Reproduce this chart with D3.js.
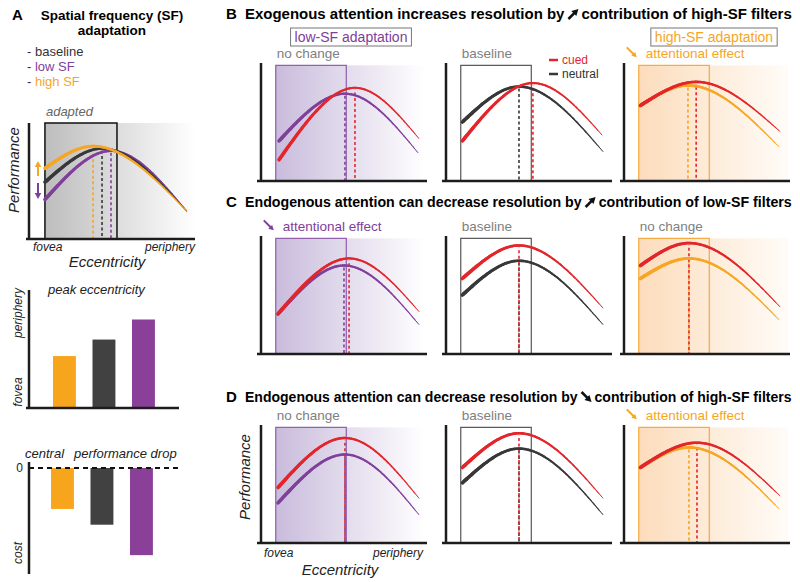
<!DOCTYPE html>
<html><head><meta charset="utf-8">
<script src="https://cdn.jsdelivr.net/npm/d3@7"></script>
<style>body{margin:0;background:#fff} text{font-family:"Liberation Sans",Arial,sans-serif}</style>
</head><body><svg id="c" width="800" height="582" xmlns="http://www.w3.org/2000/svg"></svg>
<script>
// ================= DATA =================
// Panel A: curves given as [eccentricity (0-10), performance (0-100)] at start, peak, end
const adaptHighSF   = [[0.96, 61], [3.86, 80], [9.5, 24]];
const adaptBaseline = [[0.96, 49], [4.40, 78], [9.5, 24]];
const adaptLowSF    = [[0.96, 34], [4.94, 76], [9.5, 24]];
const adaptedRegion = [0.96, 5.3];

// Panel A bars (order: high SF, baseline, low SF)
const sfConditions = ["high SF", "baseline", "low SF"];
const peakEccentricity = [44, 58, 75];
const centralDrop = [-39, -54, -83];

// Panels B-D: [eccentricity, performance] at start, peak, end
const rowB_lowCued    = [[1.10, 18], [5.73, 79], [9.63, 36]];
const rowB_lowAdapt   = [[1.10, 34], [5.12, 74], [9.57, 24]];
const rowB_baseCued   = [[1.00, 34], [5.30, 83], [9.51, 39]];
const rowB_baseNeut   = [[1.00, 50], [4.45, 80], [9.57, 25]];
const rowB_highCued   = [[1.00, 64], [4.40, 84], [9.51, 42]];
const rowB_highAdapt  = [[1.00, 64], [3.90, 81], [9.45, 29]];

const rowC_lowCued    = [[1.04, 34], [5.37, 81], [9.63, 36]];
const rowC_lowAdapt   = [[1.04, 34], [5.06, 75], [9.63, 25]];
const rowC_baseCued   = [[1.00, 64], [4.45, 92], [9.57, 39]];
const rowC_baseNeut   = [[1.00, 50], [4.45, 79], [9.57, 25]];
const rowC_highCued   = [[1.00, 75], [3.96, 94], [9.51, 40]];
const rowC_highAdapt  = [[1.00, 64], [3.96, 81], [9.45, 29]];

const rowD_lowCued    = [[1.04, 47], [5.12, 89], [9.63, 38]];
const rowD_lowAdapt   = [[1.04, 34], [5.12, 75], [9.63, 24]];
const rowD_baseCued   = [[1.00, 64], [4.45, 93], [9.57, 38]];
const rowD_baseNeut   = [[1.00, 51], [4.45, 80], [9.57, 24]];
const rowD_highCued   = [[1.00, 64], [4.45, 85], [9.51, 40]];
const rowD_highAdapt  = [[1.00, 64], [3.96, 81], [9.45, 29]];

const boxRegion = [0.9, 5.2];   // adapted / attended region (eccentricity)
const boxTop = 98;

const rowTitles = [
  ["B", "Exogenous attention increases resolution by", "up", "contribution of high-SF filters"],
  ["C", "Endogenous attention can decrease resolution by", "up", "contribution of low-SF filters"],
  ["D", "Endogenous attention can decrease resolution by", "down", "contribution of high-SF filters"]
];
const rowLabels = [
  [["no change", "grey"], ["baseline", "grey"], ["attentional effect", "orange"]],
  [["attentional effect", "purple"], ["baseline", "grey"], ["no change", "grey"]],
  [["no change", "grey"], ["baseline", "grey"], ["attentional effect", "orange"]]
];
const legendItems = ["cued", "neutral"];

// ================= STYLE =================
const C = {red: "#e3262b", purple: "#80409a", orange: "#f6a623", dark: "#383838",
           grey: "#808080", bPurple: "#8a3f98", bOrange: "#f7a51d", bDark: "#414141", axis: "#1c1c1c"};
const svg = d3.select("#c");
const defs = svg.append("defs");
function grad(id, c0, c1) {
  const g = defs.append("linearGradient").attr("id", id).attr("x1", "0").attr("x2", "1").attr("y1", "0").attr("y2", "0");
  g.append("stop").attr("offset", "0").attr("stop-color", c0);
  g.append("stop").attr("offset", "1").attr("stop-color", c1);
}
grad("gGrey", "#bdbdbd", "#ffffff");
grad("gPurple", "#c9bcdc", "#ffffff");
grad("gOrange", "#fcdcbc", "#fffcf8");

function arrow(g, x0, y0, x1, y1, color, w, hs) {
  const dx = x1 - x0, dy = y1 - y0, L = Math.hypot(dx, dy), ux = dx / L, uy = dy / L;
  const bx = x1 - ux * hs, by = y1 - uy * hs;
  g.append("line").attr("x1", x0).attr("y1", y0).attr("x2", bx + ux * 1).attr("y2", by + uy * 1)
    .attr("stroke", color).attr("stroke-width", w);
  g.append("path").attr("d", `M${x1},${y1}L${bx - uy * hs * 0.55},${by + ux * hs * 0.55}L${bx + uy * hs * 0.55},${by - ux * hs * 0.55}Z`)
    .attr("fill", color);
}

function taper(g, pts, xs, ys, color, w0, w1) {
  const line = d3.line().x(d => xs(d[0])).y(d => ys(d[1])).curve(d3.curveMonotoneX);
  const p = g.append("path").attr("d", line(pts)).attr("fill", "none");
  const node = p.node(), L = node.getTotalLength(), n = 90;
  let prev = node.getPointAtLength(0);
  const gg = g.append("g").attr("stroke", color).attr("stroke-linecap", "round");
  for (let i = 1; i <= n; i++) {
    const q = node.getPointAtLength(L * i / n);
    const t = (i - 0.5) / n;
    gg.append("line").attr("x1", prev.x).attr("y1", prev.y).attr("x2", q.x).attr("y2", q.y)
      .attr("stroke-width", w0 + (w1 - w0) * t);
    prev = q;
  }
  p.remove();
}
function peakDash(g, pts, xs, ys, color, off) {
  const pk = pts[1];
  g.append("line").attr("x1", xs(pk[0])).attr("x2", xs(pk[0])).attr("y1", ys(pk[1]) + 2).attr("y2", ys(0))
    .attr("stroke", color).attr("stroke-width", 1.6).attr("stroke-dasharray", "3,2.5").attr("stroke-dashoffset", off || 0);
}

// ================= PANEL A =================
const gA = svg.append("g");
gA.append("text").attr("x", 12).attr("y", 20).attr("font-weight", "bold").attr("font-size", 15).text("A");
gA.append("text").attr("x", 112).attr("y", 20).attr("text-anchor", "middle").attr("font-weight", "bold").attr("font-size", 13.5).text("Spatial frequency (SF)");
gA.append("text").attr("x", 112).attr("y", 35).attr("text-anchor", "middle").attr("font-weight", "bold").attr("font-size", 13.5).text("adaptation");
const legA = [["baseline", "#333"], ["low SF", C.purple], ["high SF", C.orange]];
legA.forEach((d, i) => {
  const t = gA.append("text").attr("x", 27).attr("y", 56 + i * 15).attr("font-size", 13).attr("fill", "#333");
  t.append("tspan").text("- ");
  t.append("tspan").attr("fill", d[1]).text(d[0]);
});

const xA = d3.scaleLinear().domain([0, 10]).range([29, 195]);
const yA = d3.scaleLinear().domain([0, 100]).range([239, 123]);
gA.append("rect").attr("x", xA(adaptedRegion[0])).attr("y", yA(100)).attr("width", xA(10) - xA(adaptedRegion[0]))
  .attr("height", yA(0) - yA(100)).attr("fill", "url(#gGrey)");
gA.append("rect").attr("x", xA(adaptedRegion[0])).attr("y", yA(100)).attr("width", xA(adaptedRegion[1]) - xA(adaptedRegion[0]))
  .attr("height", yA(0) - yA(100)).attr("fill", "none").attr("stroke", "#111").attr("stroke-width", 1.5);
gA.append("text").attr("x", xA(adaptedRegion[0]) + 1).attr("y", 116).attr("font-style", "italic").attr("font-size", 13).attr("fill", "#666").text("adapted");
peakDash(gA, adaptHighSF, xA, yA, C.orange);
peakDash(gA, adaptBaseline, xA, yA, C.dark);
peakDash(gA, adaptLowSF, xA, yA, C.purple);
taper(gA, adaptLowSF, xA, yA, C.purple, 3.6, 1.0);
taper(gA, adaptBaseline, xA, yA, C.dark, 3.6, 1.0);
taper(gA, adaptHighSF, xA, yA, C.orange, 3.6, 1.0);
arrow(gA, 38, 176, 38, 161, C.orange, 2, 6);
arrow(gA, 38, 183, 38, 199, C.purple, 2, 6);
gA.append("line").attr("x1", 29).attr("x2", 29).attr("y1", yA(0) + 1).attr("y2", yA(100)).attr("stroke", C.axis).attr("stroke-width", 2.5);
gA.append("line").attr("x1", 26).attr("x2", xA(10)).attr("y1", yA(0)).attr("y2", yA(0)).attr("stroke", C.axis).attr("stroke-width", 2.5);
gA.append("text").attr("x", 33).attr("y", 251).attr("font-style", "italic").attr("font-size", 12).attr("fill", "#222").text("fovea");
gA.append("text").attr("x", 195).attr("y", 251).attr("text-anchor", "end").attr("font-style", "italic").attr("font-size", 12).attr("fill", "#222").text("periphery");
gA.append("text").attr("x", 107).attr("y", 267).attr("text-anchor", "middle").attr("font-style", "italic").attr("font-size", 15).attr("fill", "#222").text("Eccentricity");
gA.append("text").attr("transform", "translate(19,170) rotate(-90)").attr("text-anchor", "middle").attr("font-style", "italic").attr("font-size", 15).attr("fill", "#222").text("Performance");

// --- peak eccentricity bars
const barCols = [C.bOrange, C.bDark, C.bPurple];
const xb1 = d3.scaleBand().domain(sfConditions).range([44.7, 163.2]).paddingInner(0.42).paddingOuter(0.21);
const yb1 = d3.scaleLinear().domain([0, 100]).range([408, 290]);
gA.append("g").selectAll("rect").data(sfConditions).join("rect")
  .attr("x", d => xb1(d)).attr("width", xb1.bandwidth())
  .attr("y", (d, i) => yb1(peakEccentricity[i])).attr("height", (d, i) => yb1(0) - yb1(peakEccentricity[i]))
  .attr("fill", (d, i) => barCols[i]);
gA.append("line").attr("x1", 29).attr("x2", 29).attr("y1", 409).attr("y2", 290).attr("stroke", C.axis).attr("stroke-width", 2.5);
gA.append("line").attr("x1", 26).attr("x2", 179).attr("y1", 408).attr("y2", 408).attr("stroke", C.axis).attr("stroke-width", 2.5);
gA.append("text").attr("x", 48).attr("y", 294).attr("font-style", "italic").attr("font-size", 13).attr("fill", "#222").text("peak eccentricity");
gA.append("text").attr("transform", "translate(22,313) rotate(-90)").attr("text-anchor", "middle").attr("font-style", "italic").attr("font-size", 12).attr("fill", "#222").text("periphery");
gA.append("text").attr("transform", "translate(22,392) rotate(-90)").attr("text-anchor", "middle").attr("font-style", "italic").attr("font-size", 12).attr("fill", "#222").text("fovea");

// --- central performance drop bars
const xb2 = d3.scaleBand().domain(sfConditions).range([42.7, 161.2]).paddingInner(0.42).paddingOuter(0.21);
const yb2 = d3.scaleLinear().domain([-100, 0]).range([573, 468]);
gA.append("g").selectAll("rect").data(sfConditions).join("rect")
  .attr("x", d => xb2(d)).attr("width", xb2.bandwidth())
  .attr("y", yb2(0)).attr("height", (d, i) => yb2(centralDrop[i]) - yb2(0))
  .attr("fill", (d, i) => barCols[i]);
gA.append("line").attr("x1", 29).attr("x2", 179).attr("y1", yb2(0)).attr("y2", yb2(0)).attr("stroke", "#111").attr("stroke-width", 2).attr("stroke-dasharray", "5,4");
gA.append("line").attr("x1", 29).attr("x2", 29).attr("y1", 462).attr("y2", 574).attr("stroke", C.axis).attr("stroke-width", 2.5);
gA.append("text").attr("x", 25).attr("y", 458).attr("font-style", "italic").attr("font-size", 13).attr("fill", "#222").text("central");
gA.append("text").attr("x", 74).attr("y", 458).attr("font-style", "italic").attr("font-size", 13).attr("fill", "#222").text("performance drop");
gA.append("text").attr("x", 23).attr("y", yb2(0) + 4).attr("text-anchor", "end").attr("font-size", 12).attr("fill", "#222").text("0");
gA.append("text").attr("transform", "translate(22,553) rotate(-90)").attr("text-anchor", "middle").attr("font-style", "italic").attr("font-size", 12).attr("fill", "#222").text("cost");

// ================= PANELS B-D =================
const colX = [261, 446, 624];
const rowBottom = [181, 354, 543];
const titleY = [19, 207, 402];
const axLen = 164, axH = 118;
const rows = [
  [[rowB_lowAdapt, rowB_lowCued], [rowB_baseNeut, rowB_baseCued], [rowB_highAdapt, rowB_highCued]],
  [[rowC_lowAdapt, rowC_lowCued], [rowC_baseNeut, rowC_baseCued], [rowC_highAdapt, rowC_highCued]],
  [[rowD_lowAdapt, rowD_lowCued], [rowD_baseNeut, rowD_baseCued], [rowD_highAdapt, rowD_highCued]]
];
const colColor = [C.purple, C.dark, C.orange];
const colFill = ["url(#gPurple)", null, "url(#gOrange)"];
const colBox = ["#8f5cab", "#555", "#f6a83c"];
const labColor = {grey: C.grey, purple: C.purple, orange: C.orange};

rows.forEach((row, r) => {
  const g = svg.append("g");
  const tt = rowTitles[r];
  g.append("text").attr("x", 226).attr("y", titleY[r]).attr("font-weight", "bold").attr("font-size", 15).text(tt[0]);
  let fs = 13;
  const t1 = g.append("text").attr("x", 245).attr("y", titleY[r]).attr("font-weight", "bold").attr("font-size", fs).text(tt[1]);
  const t2 = g.append("text").attr("y", titleY[r]).attr("font-weight", "bold").attr("font-size", fs).text(tt[3]);
  let w1 = t1.node().getComputedTextLength(), w2 = t2.node().getComputedTextLength();
  const target = 792 - 245;
  const aw = 17;
  fs = fs * (target - aw) / (w1 + w2);
  t1.attr("font-size", fs); t2.attr("font-size", fs);
  w1 = t1.node().getComputedTextLength();
  const ax = 245 + w1 + 4;
  t2.attr("x", ax + 13);
  const ty = titleY[r];
  if (tt[2] === "up") arrow(g, ax, ty, ax + 10, ty - 10, "#111", 2.6, 6.5);
  else arrow(g, ax, ty - 10, ax + 10, ty, "#111", 2.6, 6.5);

  row.forEach((pair, c) => {
    const xs = d3.scaleLinear().domain([0, 10]).range([colX[c], colX[c] + axLen]);
    const ys = d3.scaleLinear().domain([0, 100]).range([rowBottom[r], rowBottom[r] - axH]);
    const gp = g.append("g");
    if (colFill[c]) gp.append("rect").attr("x", xs(boxRegion[0])).attr("y", ys(boxTop)).attr("width", xs(10) - xs(boxRegion[0]))
      .attr("height", ys(0) - ys(boxTop)).attr("fill", colFill[c]);
    gp.append("rect").attr("x", xs(boxRegion[0])).attr("y", ys(boxTop)).attr("width", xs(boxRegion[1]) - xs(boxRegion[0]))
      .attr("height", ys(0) - ys(boxTop)).attr("fill", "none").attr("stroke", colBox[c]).attr("stroke-width", 1.2);
    peakDash(gp, pair[0], xs, ys, colColor[c]);
    peakDash(gp, pair[1], xs, ys, C.red, 2.75);
    taper(gp, pair[0], xs, ys, colColor[c], 3.6, 0.9);
    taper(gp, pair[1], xs, ys, C.red, 3.6, 0.9);
    gp.append("line").attr("x1", colX[c]).attr("x2", colX[c]).attr("y1", ys(0) + 1).attr("y2", ys(100)).attr("stroke", C.axis).attr("stroke-width", 2.5);
    gp.append("line").attr("x1", colX[c] - 4).attr("x2", xs(10) + 2).attr("y1", ys(0)).attr("y2", ys(0)).attr("stroke", C.axis).attr("stroke-width", 2.5);
    const lab = rowLabels[r][c];
    const lx = xs(boxRegion[0]) + 1;
    const ly = ys(boxTop) - 7;
    let tx = lx;
    if (lab[0] === "attentional effect") {
      const col = labColor[lab[1]];
      arrow(gp, lx - 13, ly - 11, lx - 3, ly - 1, col, 2, 5);
      tx = lx + 6;
    }
    gp.append("text").attr("x", tx).attr("y", ly).attr("font-size", 13.5).attr("fill", labColor[lab[1]]).text(lab[0]);
  });
});

// boxed headers in row B
function boxedLabel(cx, text, color) {
  const g = svg.append("g");
  const rect = g.append("rect").attr("y", 28).attr("height", 18).attr("fill", "#fff").attr("stroke", "#777").attr("stroke-width", 1);
  const t = g.append("text").attr("x", cx).attr("y", 42).attr("text-anchor", "middle").attr("font-size", 14).attr("fill", color).text(text);
  const w = t.node().getComputedTextLength();
  rect.attr("x", cx - w / 2 - 4).attr("width", w + 8);
}
boxedLabel(351, "low-SF adaptation", C.purple);
boxedLabel(714, "high-SF adaptation", C.orange);

// legend cued / neutral
const lg = svg.append("g");
const legCols = [C.red, C.dark];
legendItems.forEach((d, i) => {
  lg.append("line").attr("x1", 549).attr("x2", 558).attr("y1", 60 + i * 14).attr("y2", 60 + i * 14).attr("stroke", legCols[i]).attr("stroke-width", 2.5);
  lg.append("text").attr("x", 562).attr("y", 64 + i * 14).attr("font-size", 12).attr("fill", i ? "#333" : C.red).text(d);
});

// row D axis labels
const gD = svg.append("g");
gD.append("text").attr("x", 264).attr("y", 557).attr("font-style", "italic").attr("font-size", 12).attr("fill", "#222").text("fovea");
gD.append("text").attr("x", 423).attr("y", 557).attr("text-anchor", "end").attr("font-style", "italic").attr("font-size", 12).attr("fill", "#222").text("periphery");
gD.append("text").attr("x", 340).attr("y", 575).attr("text-anchor", "middle").attr("font-style", "italic").attr("font-size", 15).attr("fill", "#222").text("Eccentricity");
gD.append("text").attr("transform", "translate(250,477) rotate(-90)").attr("text-anchor", "middle").attr("font-style", "italic").attr("font-size", 15).attr("fill", "#222").text("Performance");
</script></body></html>
